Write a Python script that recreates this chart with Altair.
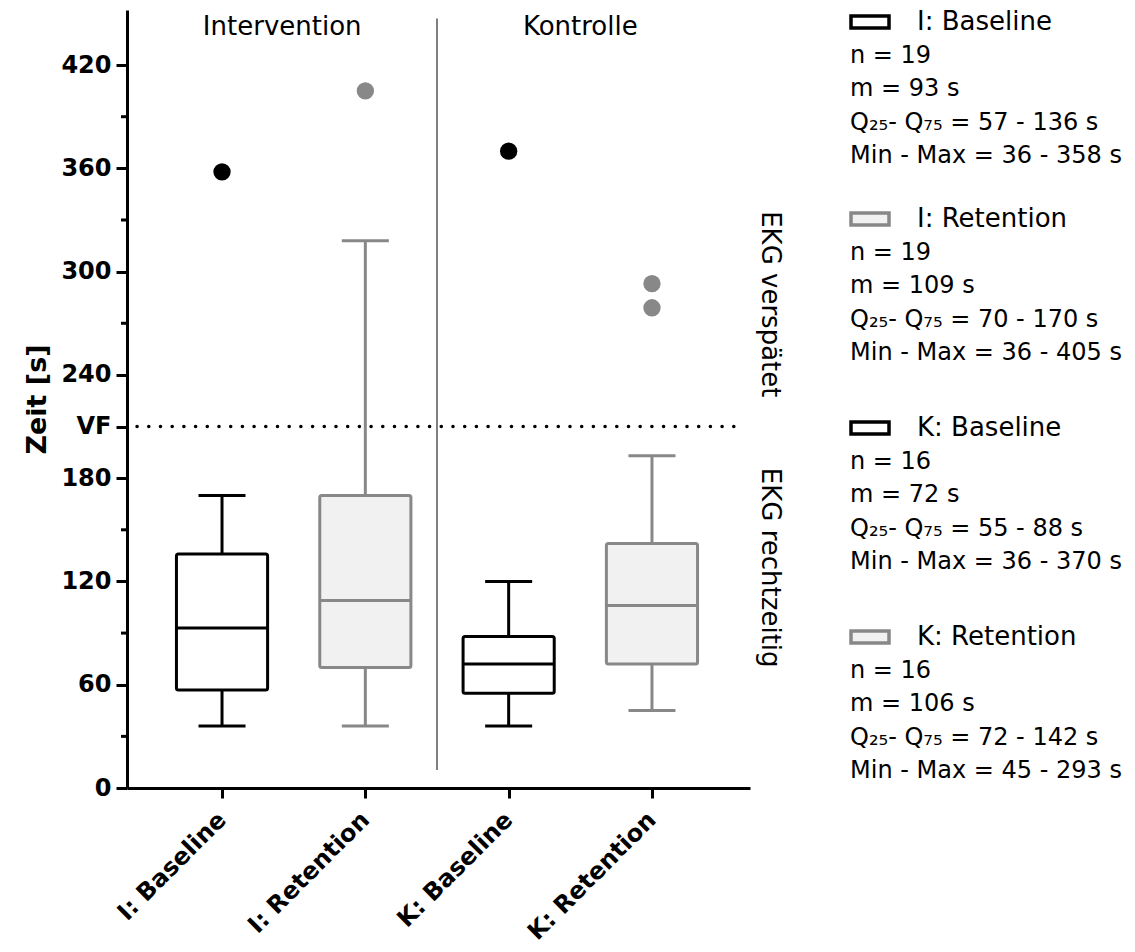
import altair as alt
import pandas as pd

# ---------------- data ----------------
groups = ["I: Baseline", "I: Retention", "K: Baseline", "K: Retention"]
phase = ["Baseline", "Retention", "Baseline", "Retention"]
n_obs = [19, 19, 16, 16]
whisker_low = [36, 36, 36, 45]
q1 = [57, 70, 55, 72]
median = [93, 109, 72, 106]
q3 = [136, 170, 88, 142]
whisker_high = [170, 318, 120, 193]
outlier_group = ["I: Baseline", "I: Retention", "K: Baseline", "K: Retention", "K: Retention"]
outlier_value = [358, 405, 370, 293, 279]
y_ticks = [0, 60, 120, 180, 240, 300, 360, 420]
y_minor = [30, 90, 150, 270, 330, 390]
vf_value = 210
group_titles = ["Intervention", "Kontrolle"]
group_title_x = [1.42, 3.5]
zone_labels = ["EKG verspätet", "EKG rechtzeitig"]
zone_values = [281, 128]
minmax_label = ["Min - Max", "Min - Max ", "Min - Max", "Min - Max"]

# ---------------- layout constants ----------------
X_DOMAIN = [0.337, 4.684]
Y_DOMAIN = [0, 452]
BOX_HALF = 0.318
CAP_HALF = 0.164
PHASE_DOMAIN = ["Baseline", "Retention"]
STROKE_RANGE = ["#000000", "#888888"]
FILL_RANGE = ["#ffffff", "#f1f1f1"]
FONT = "DejaVu Sans"

pos = [i + 1 for i in range(len(groups))]
summary = pd.DataFrame({
    "group": groups, "phase": phase, "pos": pos,
    "lo": whisker_low, "q1": q1, "med": median, "q3": q3, "hi": whisker_high,
})
pos_of = dict(zip(groups, pos))
phase_of = dict(zip(groups, phase))
outliers = pd.DataFrame({
    "pos": [pos_of[g] for g in outlier_group],
    "phase": [phase_of[g] for g in outlier_group],
    "value": outlier_value,
})

label_expr = "[" + ",".join(["''"] + [f"'{g}'" for g in groups]) + "][datum.value]"

xscale = alt.Scale(domain=X_DOMAIN, nice=False, zero=False)
yscale = alt.Scale(domain=Y_DOMAIN, nice=False, zero=True)
xaxis = alt.Axis(values=pos, labelExpr=label_expr, title=None, grid=False,
                 labelAngle=-45, labelAlign="right", labelBaseline="middle",
                 labelFontSize=24, labelFontWeight="bold", labelColor="black", labelFont=FONT,
                 labelPadding=18, labelLimit=0, labelOverlap=False,
                 tickSize=10, tickWidth=3, tickColor="black",
                 domainWidth=3, domainColor="black")
yaxis = alt.Axis(values=y_ticks + [vf_value],
                 labelExpr=f"datum.value == {vf_value} ? 'VF' : datum.label",
                 title="Zeit [s]", titleFontSize=27, titleFontWeight="bold", titleColor="black",
                 titleFont=FONT, titlePadding=9,
                 labelFontSize=24, labelFontWeight="bold", labelColor="black", labelFont=FONT,
                 labelPadding=5, tickSize=11, tickWidth=3, tickColor="black",
                 domainWidth=3, domainColor="black", grid=False)


def X(field):
    return alt.X(field, type="quantitative", scale=xscale, axis=xaxis)


def Y(field):
    return alt.Y(field, type="quantitative", scale=yscale, axis=yaxis)


stroke_enc = alt.Stroke("phase:N", scale=alt.Scale(domain=PHASE_DOMAIN, range=STROKE_RANGE), legend=None)
color_enc = alt.Color("phase:N", scale=alt.Scale(domain=PHASE_DOMAIN, range=STROKE_RANGE), legend=None)
fill_enc = alt.Fill("phase:N", scale=alt.Scale(domain=PHASE_DOMAIN, range=FILL_RANGE), legend=None)

base = alt.Chart(summary).transform_calculate(
    bl=f"datum.pos - {BOX_HALF}", br=f"datum.pos + {BOX_HALF}",
    cl=f"datum.pos - {CAP_HALF}", cr=f"datum.pos + {CAP_HALF}",
)

whisk_low = base.mark_rule(strokeWidth=3).encode(x=X("pos"), y=Y("lo"), y2="q1", color=color_enc)
whisk_high = base.mark_rule(strokeWidth=3).encode(x=X("pos"), y=Y("q3"), y2="hi", color=color_enc)
cap_low = base.mark_rule(strokeWidth=3).encode(x=X("cl"), x2="cr", y=Y("lo"), color=color_enc)
cap_high = base.mark_rule(strokeWidth=3).encode(x=X("cl"), x2="cr", y=Y("hi"), color=color_enc)
boxes = base.mark_rect(strokeWidth=3, cornerRadius=2).encode(
    x=X("bl"), x2="br", y=Y("q1"), y2="q3", stroke=stroke_enc, fill=fill_enc)
med = base.mark_rule(strokeWidth=3).encode(x=X("bl"), x2="br", y=Y("med"), color=color_enc)

outl = alt.Chart(outliers).mark_circle(size=300, opacity=1).encode(
    x=X("pos"), y=Y("value"), color=color_enc)

minor = alt.Chart(pd.DataFrame({"v": y_minor})).mark_rule(strokeWidth=3, color="black").encode(
    y=Y("v"), x=alt.value(-6), x2=alt.value(0))

vf = alt.Chart(pd.DataFrame({"v": [vf_value], "a": [X_DOMAIN[0] + 0.07], "b": [4.636]})).mark_rule(
    strokeWidth=3.5, strokeDash=[0.1, 11.6], strokeCap="round", color="black").encode(
    x=X("a"), x2="b", y=Y("v"))

sep = alt.Chart(pd.DataFrame({"x": [2.5], "lo": [10.5], "hi": [447]})).mark_rule(
    strokeWidth=1.5, color="#555555").encode(x=X("x"), y=Y("lo"), y2="hi")

gtitles = alt.Chart(pd.DataFrame({"t": group_titles, "x": group_title_x, "y": [442, 442]})).mark_text(
    fontSize=26, font=FONT, color="black", baseline="middle", align="center").encode(
    x=X("x"), y=Y("y"), text="t:N")

zones = alt.Chart(pd.DataFrame({"t": zone_labels, "y": zone_values})).mark_text(
    fontSize=26, font=FONT, color="black", angle=90, baseline="middle", align="center").encode(
    x=alt.value(643), y=Y("y"), text="t:N")

# ---------------- legend (text block on the right) ----------------
LEG_TOP = [12, 209, 418, 627]
LINE = 33.5
rows = []
syms = []
for i, g in enumerate(groups):
    top = LEG_TOP[i]
    rows.append({"t": g, "x": 790, "y": top, "kind": "title"})
    mx = max([v for gg, v in zip(outlier_group, outlier_value) if gg == g] + [whisker_high[i]])
    body = [f"n = {n_obs[i]}", f"m = {median[i]} s",
            f"Q\u2082\u2085- Q\u2087\u2085 = {q1[i]} - {q3[i]} s",
            f"{minmax_label[i]} = {whisker_low[i]} - {mx} s"]
    for k, b in enumerate(body):
        rows.append({"t": b, "x": 723, "y": top + LINE * (k + 1), "kind": "body"})
    syms.append({"phase": phase[i], "y0": top - 6, "y1": top + 6})
leg_df = pd.DataFrame(rows)
sym_df = pd.DataFrame(syms)

leg_title = alt.Chart(leg_df[leg_df.kind == "title"]).mark_text(
    fontSize=26, font=FONT, color="black", align="left", baseline="middle").encode(
    x=alt.X("x:Q", scale=None, axis=None), y=alt.Y("y:Q", scale=None, axis=None), text="t:N")
leg_body = alt.Chart(leg_df[leg_df.kind == "body"]).mark_text(
    fontSize=24, font=FONT, color="black", align="left", baseline="middle").encode(
    x=alt.X("x:Q", scale=None, axis=None), y=alt.Y("y:Q", scale=None, axis=None), text="t:N")
leg_sym = alt.Chart(sym_df).mark_rect(strokeWidth=3.5).encode(
    x=alt.value(724), x2=alt.value(762),
    y=alt.Y("y0:Q", scale=None, axis=None), y2="y1:Q",
    stroke=stroke_enc, fill=fill_enc)

chart = alt.layer(
    minor, vf, sep, whisk_low, whisk_high, cap_low, cap_high, boxes, med, outl,
    gtitles, zones, leg_sym, leg_title, leg_body,
).properties(
    width=623, height=778,
    autosize=alt.AutoSizeParams(type="none"),
    padding={"left": 127, "top": 10, "right": 385, "bottom": 164},
    background="white",
).configure_view(stroke=None)

chart.save("out.html", embed_options={"renderer": "svg", "actions": False})
